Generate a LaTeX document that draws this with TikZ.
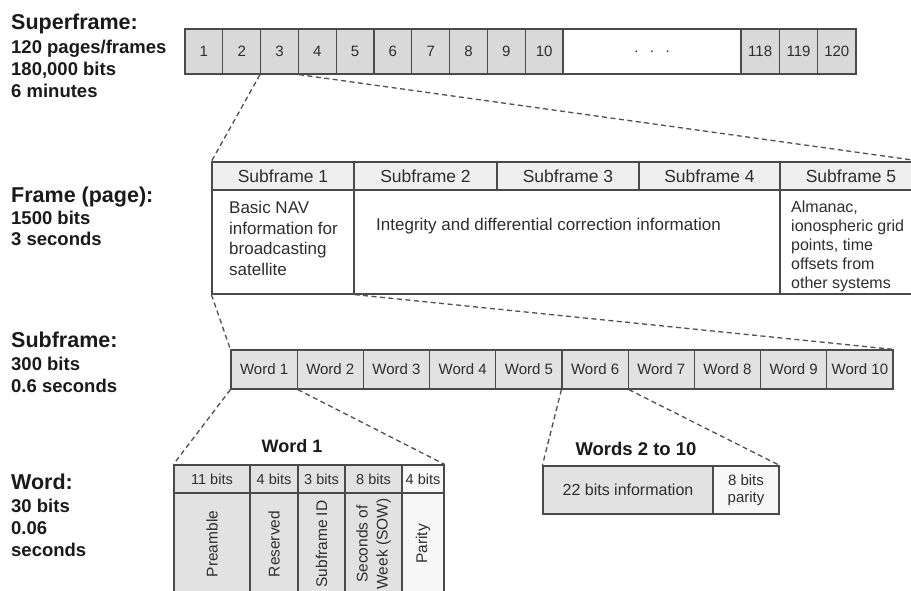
\documentclass[tikz,border=0pt]{standalone}
\usepackage{fontspec}
\setmainfont{Liberation Sans}
\definecolor{lineC}{HTML}{4A4A4A}
\definecolor{dashC}{HTML}{505050}
\definecolor{sfFill}{HTML}{D9D9D9}
\definecolor{hdrFill}{HTML}{EFEFEF}
\definecolor{wordFill}{HTML}{E2E2E2}
\definecolor{lightFill}{HTML}{F7F7F7}
\definecolor{txtC}{HTML}{2E2E2E}
\definecolor{lblC}{HTML}{1A1A1A}
\begin{document}
\begin{tikzpicture}[x=1pt,y=-1pt,
  cell/.style={draw=lineC, line width=1.2pt, inner sep=0pt, text=txtC, anchor=center},
  sfb/.style={cell, fill=sfFill, minimum height=45pt, font=\fontsize{15}{18}\selectfont},
  hdr/.style={cell, fill=hdrFill, minimum height=28pt, font=\fontsize{17.5}{20}\selectfont},
  body/.style={cell, fill=white, minimum height=104pt},
  wb/.style={cell, fill=wordFill, minimum height=39pt, minimum width=66.2pt, font=\fontsize{15}{18}\selectfont},
  bh/.style={cell, fill=wordFill, minimum height=28pt, font=\fontsize{14.5}{17}\selectfont},
  bb/.style={cell, fill=wordFill, minimum height=102pt},
  txt/.style={inner sep=0pt, text=txtC},
  vtxt/.style={txt, rotate=90, anchor=center, font=\fontsize{15.5}{20}\selectfont},
  zoomline/.style={draw=dashC, line width=1.3pt, dash pattern=on 5pt off 3.5pt},
  ttl/.style={anchor=base west, inner sep=0pt, text=lblC, font=\bfseries\fontsize{21.5}{25}\selectfont},
  sub/.style={anchor=base west, inner sep=0pt, text=lblC, font=\bfseries\fontsize{18.5}{21}\selectfont},
  wtitle/.style={anchor=base, inner sep=0pt, text=lblC, font=\bfseries\fontsize{18}{21}\selectfont},
]
\useasboundingbox (0,0) rectangle (911,590);
\clip (0,0) rectangle (911,590);
\fill[white] (0,0) rectangle (911,590);

% left labels
\node[ttl] (L1) at (11,29.5) {Superframe:};
\node[sub] (L1a) at (11,53) {120 pages/frames};
\node[sub] (L1b) at (11,75) {180,000 bits};
\node[sub] (L1c) at (11,97) {6 minutes};
\node[ttl] (L2) at (11,202) {Frame (page):};
\node[sub] (L2a) at (11,224) {1500 bits};
\node[sub] (L2b) at (11,245) {3 seconds};
\node[ttl] (L3) at (11,347) {Subframe:};
\node[sub] (L3a) at (11,370) {300 bits};
\node[sub] (L3b) at (11,392) {0.6 seconds};
\node[ttl] (L4) at (11,489) {Word:};
\node[sub] (L4a) at (11,512) {30 bits};
\node[sub] (L4b) at (11,534) {0.06};
\node[sub] (L4c) at (11,556) {seconds};

% superframe
\foreach \i in {1,...,10} {
  \node[sfb, minimum width=37.8pt] (s\i) at ({185+37.8*(\i-0.5)},51.5) {\i};
}
\node[sfb, fill=white, minimum width=178pt] (sdots) at (652,51.5) {.\hspace{11.5pt}.\hspace{11.5pt}.};
\node[sfb, minimum width=38.33pt] (s118) at (760.2,51.5) {118};
\node[sfb, minimum width=38.33pt] (s119) at (798.5,51.5) {119};
\node[sfb, minimum width=38.33pt] (s120) at (836.8,51.5) {120};

% frame table
\node[hdr, minimum width=142pt] (f1) at (283,176) {Subframe 1};
\node[hdr, minimum width=143pt] (f2) at (425.5,176) {Subframe 2};
\node[hdr, minimum width=142pt] (f3) at (568,176) {Subframe 3};
\node[hdr, minimum width=141pt] (f4) at (709.5,176) {Subframe 4};
\node[hdr, minimum width=142pt] (f5) at (851,176) {Subframe 5};
\node[body, minimum width=142pt] (b1) at (283,242) {};
\node[body, minimum width=426pt] (b2) at (567,242) {};
\node[body, minimum width=142pt] (b5) at (851,242) {};
\node[txt, anchor=north west, align=left, font=\fontsize{17}{20.5}\selectfont] (t1) at (229,201) {Basic NAV\\information for\\broadcasting\\satellite};
\node[txt, anchor=base west, font=\fontsize{17}{20}\selectfont] (t2) at (376,230) {Integrity and differential correction information};
\node[txt, anchor=north west, align=left, font=\fontsize{16}{19}\selectfont] (t5) at (791,201) {Almanac,\\ionospheric grid\\points, time\\offsets from\\other systems};

% subframe words
\foreach \i in {1,...,10} {
  \node[wb] (w\i) at ({231+66.2*(\i-0.5)},369.5) {Word \i};
}

% word 1 table
\node[wtitle] (wt1) at (292,452) {Word 1};
\node[bh, minimum width=76pt] (h1) at (212,479) {11 bits};
\node[bh, minimum width=48pt] (h2) at (274,479) {4 bits};
\node[bh, minimum width=47pt] (h3) at (321.5,479) {3 bits};
\node[bh, minimum width=57pt] (h4) at (373.5,479) {8 bits};
\node[bh, fill=lightFill, minimum width=42pt] (h5) at (423,479) {4 bits};
\node[bb, minimum width=76pt] (c1) at (212,544) {};
\node[bb, minimum width=48pt] (c2) at (274,544) {};
\node[bb, minimum width=47pt] (c3) at (321.5,544) {};
\node[bb, minimum width=57pt] (c4) at (373.5,544) {};
\node[bb, fill=lightFill, minimum width=42pt] (c5) at (423,544) {};
\node[vtxt] (v1) at (c1.center) {Preamble};
\node[vtxt] (v2) at (c2.center) {Reserved};
\node[vtxt] (v3) at (c3.center) {Subframe ID};
\node[vtxt, align=center] (v4) at (c4.center) {Seconds of\\Week (SOW)};
\node[vtxt] (v5) at (c5.center) {Parity};

% words 2 to 10
\node[wtitle, font=\bfseries\fontsize{18.5}{21}\selectfont] (wt2) at (636,455.5) {Words 2 to 10};
\node[cell, fill=wordFill, minimum width=170pt, minimum height=48pt, font=\fontsize{16}{19}\selectfont] (i1) at (628,490) {22 bits information};
\node[cell, fill=lightFill, minimum width=66pt, minimum height=48pt, align=center, font=\fontsize{15}{16.5}\selectfont] (i2) at (746,490) {8 bits\\parity};

% zoom connectors
\draw[zoomline] (s3.south west) -- (f1.north west);
\draw[zoomline] (s3.south east) -- (f5.north east);
\draw[zoomline] (b1.south west) -- (w1.north west);
\draw[zoomline] (b1.south east) -- (w10.north east);
\draw[zoomline] (w1.south west) -- (h1.north west);
\draw[zoomline] (w1.south east) -- (h5.north east);
\draw[zoomline] (w6.south west) -- (i1.north west);
\draw[zoomline] (w6.south east) -- (i2.north east);
\end{tikzpicture}
\end{document}
